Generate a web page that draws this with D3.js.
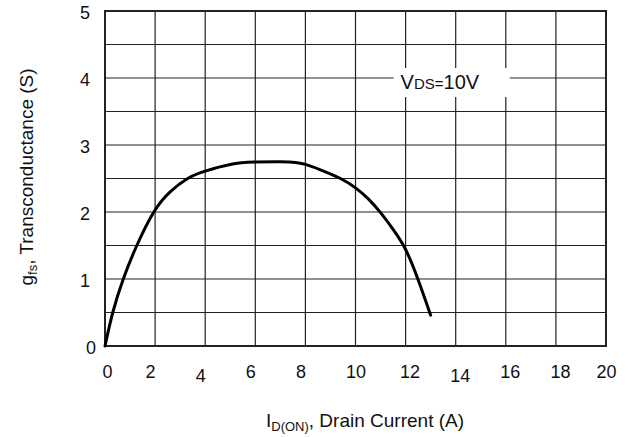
<!DOCTYPE html>
<html>
<head>
<meta charset="utf-8">
<script src="https://cdn.jsdelivr.net/npm/d3@7"></script>
<style>
  html, body { margin: 0; padding: 0; background: #fff; }
  svg text { font-family: "Liberation Sans", Arial, sans-serif; fill: #111; }
</style>
</head>
<body>
<svg id="chart" width="635" height="437"></svg>
<script>
// ---- data ----
const xTickValues = [0, 2, 4, 6, 8, 10, 12, 14, 16, 18, 20];
const yTickValues = [0, 1, 2, 3, 4, 5];
const drainCurrent = [0, 0.31, 0.73, 1.27, 1.95, 2.6, 3.3, 4.0, 5.0, 6.0, 7.0, 7.6, 8.0, 8.6, 9.4, 10.0, 10.5, 11.0, 11.5, 12.0, 12.5, 13.0];
const transconductance = [0, 0.5, 1.0, 1.5, 2.0, 2.3, 2.5, 2.61, 2.71, 2.745, 2.75, 2.74, 2.71, 2.63, 2.5, 2.36, 2.2, 1.99, 1.74, 1.44, 0.99, 0.46];
const conditionLabel = { main: "V", sub: "DS=", tail: "10V" };

// ---- layout ----
const svg = d3.select("#chart");
const x = d3.scaleLinear().domain([0, 20]).range([105, 606]);
const y = d3.scaleLinear().domain([0, 5]).range([346, 11]);

// grid
const grid = svg.append("g");
grid.selectAll("line.v").data(d3.range(0, 20.001, 2)).join("line")
  .attr("x1", d => x(d)).attr("x2", d => x(d))
  .attr("y1", y(0)).attr("y2", y(5))
  .attr("stroke", "#222").attr("stroke-width", 1.2);
grid.selectAll("line.h").data(d3.range(0, 5.001, 0.5)).join("line")
  .attr("x1", x(0)).attr("x2", x(20))
  .attr("y1", d => y(d)).attr("y2", d => y(d))
  .attr("stroke", "#222").attr("stroke-width", 1.2);

// frame
svg.append("rect")
  .attr("x", x(0)).attr("y", y(5))
  .attr("width", x(20) - x(0)).attr("height", y(0) - y(5))
  .attr("fill", "none").attr("stroke", "#222").attr("stroke-width", 2);

// condition label with white background
const lbl = svg.append("g");
const bg = lbl.append("rect").attr("fill", "#fff");
const t = lbl.append("text").attr("x", x(11.8)).attr("y", y(4) + 11).attr("font-size", 20);
t.append("tspan").text(conditionLabel.main);
t.append("tspan").attr("font-size", 15).text(conditionLabel.sub);
t.append("tspan").text(conditionLabel.tail);
const bb = t.node().getBBox();
bg.attr("x", bb.x - 7).attr("width", bb.width + 37)
  .attr("y", y(4) - 10).attr("height", 29);

// curve
const line = d3.line()
  .x((d, i) => x(drainCurrent[i]))
  .y(d => y(d))
  .curve(d3.curveNatural);
svg.append("path")
  .datum(transconductance)
  .attr("d", line)
  .attr("fill", "none")
  .attr("stroke", "#000")
  .attr("stroke-width", 3)
  .attr("stroke-linecap", "round");

// axes (labels only)
const xAxis = d3.axisBottom(x).tickValues(xTickValues).tickSize(0).tickPadding(0).tickFormat(d3.format("d"));
const gx = svg.append("g").attr("transform", `translate(0,${y(0) + 18})`).call(xAxis);
gx.select(".domain").remove();
gx.selectAll("text").attr("font-size", 18).attr("fill", "#111")
  .style("font-family", '"Liberation Sans", Arial, sans-serif')
  .attr("dx", d => d === 0 ? 2 : d <= 8 ? -5 : (d >= 12 && d < 20) ? 4 : 0)
  .attr("dy", d => (d === 4 || d === 14) ? "1.0em" : "0.78em");

const yAxis = d3.axisLeft(y).tickValues(yTickValues).tickSize(0).tickPadding(15).tickFormat(d3.format("d"));
const gy = svg.append("g").attr("transform", `translate(${x(0)},2)`).call(yAxis);
gy.select(".domain").remove();
gy.selectAll("text").attr("font-size", 18).attr("fill", "#111")
  .style("font-family", '"Liberation Sans", Arial, sans-serif')
  .attr("dx", d => d === 0 ? 6 : 0);

// axis titles
const xt = svg.append("text").attr("x", 365).attr("y", 427)
  .attr("text-anchor", "middle").attr("font-size", 19);
xt.append("tspan").text("I");
xt.append("tspan").attr("font-size", 13).attr("dy", 4).text("D(ON)");
xt.append("tspan").attr("dy", -4).text(", Drain Current (A)");

const yt = svg.append("text")
  .attr("transform", `translate(33,177) rotate(-90)`)
  .attr("text-anchor", "middle").attr("font-size", 19);
yt.append("tspan").text("g");
yt.append("tspan").attr("font-size", 13).attr("dy", 4).text("fs");
yt.append("tspan").attr("dy", -4).text(", Transconductance (S)");
</script>
</body>
</html>
